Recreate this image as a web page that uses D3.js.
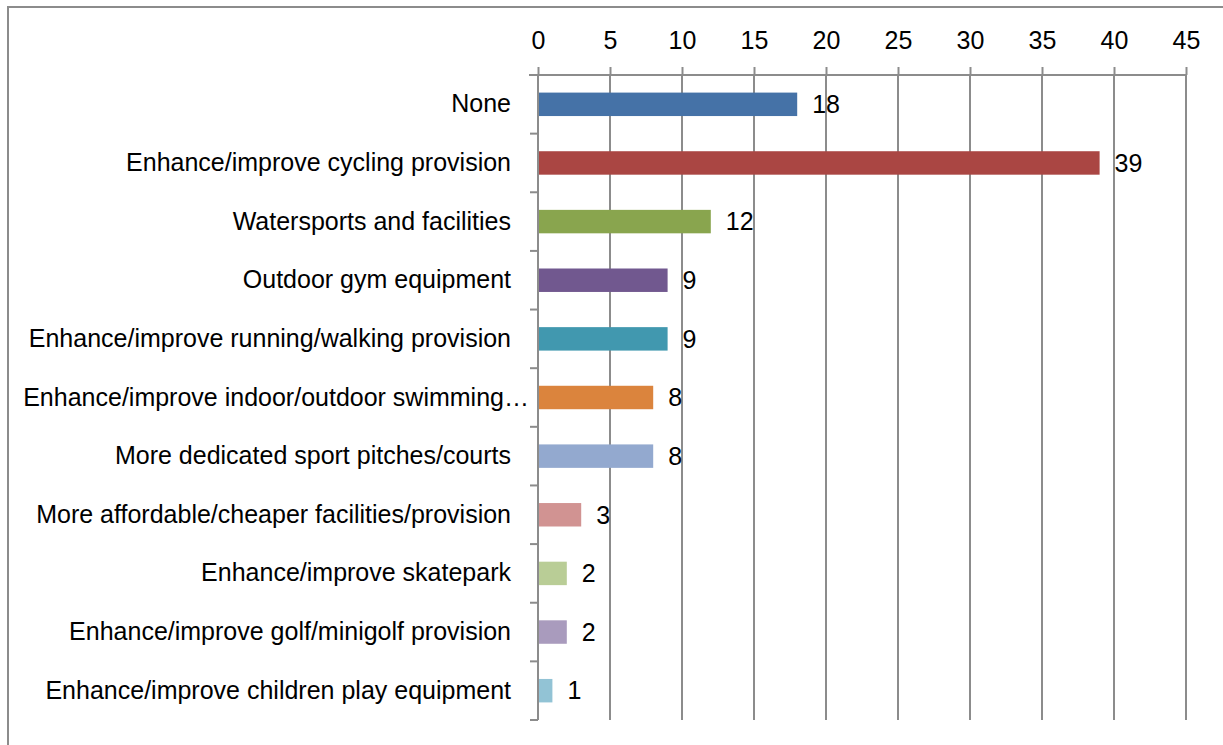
<!DOCTYPE html>
<html>
<head>
<meta charset="utf-8">
<script src="https://cdn.jsdelivr.net/npm/d3@7"></script>
<style>
  body { margin: 0; background: #fff; }
  text { font-family: "Liberation Sans", Arial, sans-serif; fill: #000; }
</style>
</head>
<body>
<svg id="chart" width="1223" height="745"></svg>
<script>
// categories top to bottom, as shown on the chart
const categories = [
    "None",
    "Enhance/improve cycling provision",
    "Watersports and facilities",
    "Outdoor gym equipment",
    "Enhance/improve running/walking provision",
    "Enhance/improve indoor/outdoor swimming\u2026",
    "More dedicated sport pitches/courts",
    "More affordable/cheaper facilities/provision",
    "Enhance/improve skatepark",
    "Enhance/improve golf/minigolf provision",
    "Enhance/improve children play equipment"
];
const values = [18, 39, 12, 9, 9, 8, 8, 3, 2, 2, 1];
const tickValues = [0, 5, 10, 15, 20, 25, 30, 35, 40, 45];
const barColors = ["#4572A7", "#AA4643", "#89A54E", "#71588F", "#4198AF", "#DB843D",
    "#93A9CF", "#D19392", "#B9CD96", "#A99BBD", "#92C3D5"];

const svg = d3.select("#chart");
const gridColor = "#8c8c8c";
const fontSize = 25;

// outer chart frame (runs off the right and bottom of the picture)
svg.append("path")
    .attr("d", "M8,760 V7 H1240")
    .attr("fill", "none")
    .attr("stroke", gridColor)
    .attr("stroke-width", 2);

const plot = {left: 538, right: 1186, top: 75, bottom: 720};

let x = d3.scaleLinear().domain([0, 45]).range([plot.left, plot.right]);
let y = d3.scaleBand().domain(categories).range([plot.top, plot.bottom]);

// vertical gridlines + top axis
let xAxis = svg.append("g")
    .attr("transform", "translate(0," + plot.top + ")")
    .call(d3.axisTop(x).tickValues(tickValues).tickSize(8).tickPadding(18).tickSizeOuter(0));
xAxis.select(".domain").remove();
xAxis.selectAll(".tick line").attr("stroke", gridColor).attr("stroke-width", 2);
xAxis.selectAll(".tick text").attr("font-size", fontSize).attr("fill", "#000");

svg.append("g")
    .selectAll("line")
    .data(tickValues)
    .enter().append("line")
    .attr("x1", d => x(d)).attr("x2", d => x(d))
    .attr("y1", plot.top).attr("y2", plot.bottom)
    .attr("stroke", gridColor)
    .attr("stroke-width", 2);

svg.append("line")
    .attr("x1", plot.left - 9).attr("x2", plot.right)
    .attr("y1", plot.top).attr("y2", plot.top)
    .attr("stroke", gridColor).attr("stroke-width", 2);

// category axis with outward ticks at band edges
let yAxis = svg.append("g")
    .attr("transform", "translate(" + plot.left + ",0)")
    .call(d3.axisLeft(y).tickSize(0).tickPadding(27));
yAxis.select(".domain").remove();
yAxis.selectAll(".tick text").attr("font-size", fontSize).attr("fill", "#000");
// the truncated label sits a little further right, like Excel draws it
yAxis.selectAll(".tick text")
    .filter(d => d.endsWith("\u2026"))
    .attr("x", -9);

let edges = categories.map(c => y(c)).concat([plot.bottom]);
svg.append("g")
    .selectAll("line")
    .data(edges)
    .enter().append("line")
    .attr("x1", plot.left - 8).attr("x2", plot.left)
    .attr("y1", d => d).attr("y2", d => d)
    .attr("stroke", gridColor).attr("stroke-width", 2);

// bars
const barH = y.bandwidth() * 0.4;
svg.append("g")
    .selectAll("rect")
    .data(values)
    .enter().append("rect")
    .attr("x", x(0) + 1)
    .attr("y", (d, i) => y(categories[i]) + (y.bandwidth() - barH) / 2)
    .attr("width", d => x(d) - x(0) - 1)
    .attr("height", barH)
    .attr("fill", (d, i) => barColors[i]);

// value labels
svg.append("g")
    .selectAll("text")
    .data(values)
    .enter().append("text")
    .attr("x", d => x(d) + 15)
    .attr("y", (d, i) => y(categories[i]) + y.bandwidth() / 2)
    .attr("dy", "0.35em")
    .attr("font-size", fontSize)
    .text(d => d);
</script>
</body>
</html>
